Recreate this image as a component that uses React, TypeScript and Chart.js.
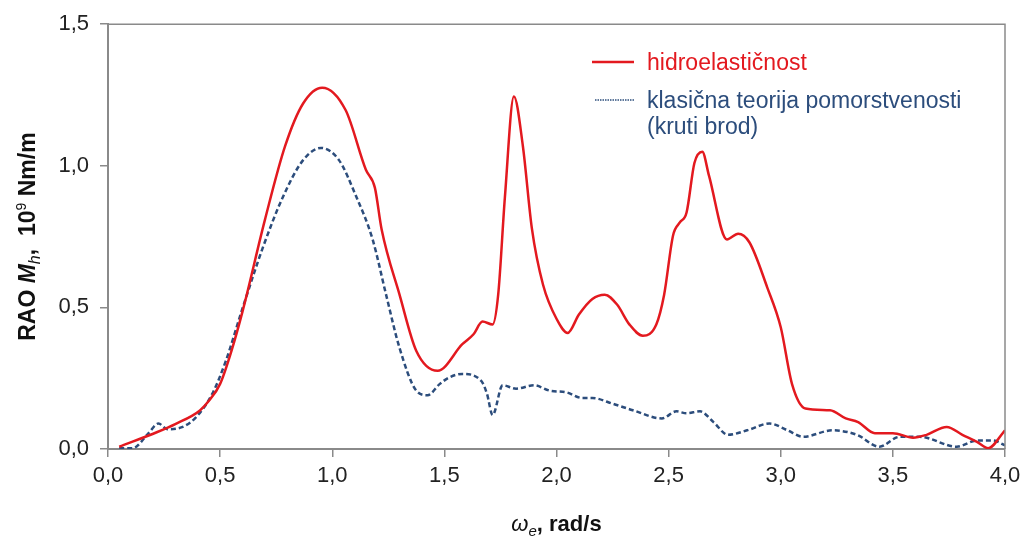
import React, { useEffect, useRef } from "react";
import { Chart, registerables } from "chart.js";

Chart.register(...registerables);

// ω_e [rad/s] and RAO M_h [10^9 Nm/m]
const hydroX = [0.05, 0.22, 0.3, 0.41, 0.45, 0.5, 0.55, 0.6, 0.7, 0.79, 0.87, 0.955, 1.06, 1.15, 1.19, 1.22, 1.3, 1.375, 1.47, 1.58, 1.63, 1.67, 1.715, 1.74, 1.77, 1.81, 1.85, 1.89, 1.94, 2.0, 2.05, 2.1, 2.16, 2.215, 2.27, 2.325, 2.385, 2.445, 2.48, 2.52, 2.55, 2.58, 2.615, 2.65, 2.68, 2.76, 2.81, 2.86, 2.94, 3.0, 3.05, 3.11, 3.22, 3.29, 3.345, 3.42, 3.5, 3.59, 3.65, 3.74, 3.81, 3.875, 3.925, 4.0];
const hydroY = [0.008, 0.06, 0.088, 0.136, 0.17, 0.23, 0.345, 0.486, 0.81, 1.07, 1.22, 1.276, 1.196, 0.986, 0.923, 0.776, 0.545, 0.346, 0.276, 0.37, 0.405, 0.45, 0.44, 0.545, 0.89, 1.245, 1.07, 0.78, 0.58, 0.46, 0.41, 0.475, 0.53, 0.545, 0.51, 0.44, 0.40, 0.44, 0.545, 0.755, 0.80, 0.835, 1.01, 1.05, 0.965, 0.74, 0.76, 0.73, 0.57, 0.43, 0.23, 0.143, 0.137, 0.108, 0.095, 0.056, 0.056, 0.04, 0.05, 0.078, 0.05, 0.025, 0.003, 0.066];

const rigidX = [0.05, 0.11, 0.18, 0.225, 0.265, 0.33, 0.39, 0.465, 0.525, 0.6, 0.69, 0.78, 0.87, 0.95, 1.03, 1.105, 1.18, 1.24, 1.3, 1.375, 1.425, 1.48, 1.52, 1.58, 1.665, 1.69, 1.715, 1.76, 1.82, 1.9, 1.97, 2.045, 2.115, 2.16, 2.25, 2.34, 2.47, 2.535, 2.58, 2.64, 2.7, 2.765, 2.85, 2.95, 3.03, 3.1, 3.23, 3.34, 3.44, 3.53, 3.62, 3.785, 3.875, 3.945, 4.0];
const rigidY = [0.003, 0.003, 0.055, 0.09, 0.07, 0.077, 0.11, 0.195, 0.31, 0.497, 0.71, 0.89, 1.02, 1.063, 1.02, 0.895, 0.74, 0.545, 0.357, 0.206, 0.19, 0.23, 0.252, 0.265, 0.24, 0.195, 0.12, 0.225, 0.213, 0.225, 0.206, 0.2, 0.18, 0.18, 0.16, 0.137, 0.108, 0.133, 0.126, 0.133, 0.095, 0.05, 0.066, 0.09, 0.066, 0.043, 0.066, 0.05, 0.008, 0.043, 0.043, 0.008, 0.03, 0.03, 0.013];

const seriesLabels = ["hidroelastičnost", "klasična teorija pomorstvenosti\n(kruti brod)"];
const xTicks = [0, 0.5, 1, 1.5, 2, 2.5, 3, 3.5, 4];
const yTicks = [0, 0.5, 1, 1.5];

const FONT = "'Liberation Sans', Arial, sans-serif";
const RED = "#e3191f";
const BLUE = "#2c4d7c";
const AXIS = "#8a8a8a";

const fmt = (v: number) => Number(v).toFixed(1).replace(".", ",");

type Run = { text: string; font: string; dy: number };

function drawRuns(ctx: CanvasRenderingContext2D, runs: Run[], cx: number, baseY: number) {
  let total = 0;
  const widths = runs.map((r) => {
    ctx.font = r.font;
    const w = ctx.measureText(r.text).width;
    total += w;
    return w;
  });
  let x = cx - total / 2;
  ctx.textAlign = "left";
  ctx.textBaseline = "alphabetic";
  runs.forEach((r, i) => {
    ctx.font = r.font;
    ctx.fillText(r.text, x, baseY + r.dy);
    x += widths[i];
  });
}

const decor = {
  id: "decor",
  afterDraw(chart: any) {
    const { ctx, chartArea: a } = chart;
    ctx.save();
    // top and right frame
    ctx.strokeStyle = AXIS;
    ctx.lineWidth = 1.5;
    ctx.beginPath();
    ctx.moveTo(a.left, a.top);
    ctx.lineTo(a.right, a.top);
    ctx.lineTo(a.right, a.bottom);
    ctx.stroke();

    // legend
    const ds = chart.data.datasets;
    const legendX = 592;
    const textX = 647;
    const rows = [62, 100];
    ds.forEach((d: any, i: number) => {
      const y = rows[i];
      ctx.save();
      ctx.strokeStyle = d.borderColor;
      if (i === 0) {
        ctx.lineWidth = 2.5;
        ctx.setLineDash([]);
      } else {
        ctx.lineWidth = 1.5;
        ctx.setLineDash([1.5, 1]);
      }
      ctx.beginPath();
      ctx.moveTo(legendX + (i === 0 ? 0 : 3), y);
      ctx.lineTo(legendX + 42, y);
      ctx.stroke();
      ctx.restore();
      ctx.fillStyle = d.borderColor;
      ctx.font = `23px ${FONT}`;
      ctx.textAlign = "left";
      ctx.textBaseline = "middle";
      String(d.label)
        .split("\n")
        .forEach((line: string, j: number) => ctx.fillText(line, textX, y + 2 + j * 26));
    });

    // axis titles
    ctx.fillStyle = "#111";
    drawRuns(
      ctx,
      [
        { text: "ω", font: `italic 22px ${FONT}`, dy: 0 },
        { text: "e", font: `italic 15px ${FONT}`, dy: 5 },
        { text: ", rad/s", font: `bold 22px ${FONT}`, dy: 0 },
      ],
      (a.left + a.right) / 2,
      531
    );
    ctx.save();
    ctx.translate(35, (a.top + a.bottom) / 2);
    ctx.rotate(-Math.PI / 2);
    drawRuns(
      ctx,
      [
        { text: "RAO ", font: `bold 23px ${FONT}`, dy: 0 },
        { text: "M", font: `italic bold 23px ${FONT}`, dy: 0 },
        { text: "h", font: `italic 16px ${FONT}`, dy: 5 },
        { text: ",  10", font: `bold 23px ${FONT}`, dy: 0 },
        { text: "9", font: `14px ${FONT}`, dy: -9 },
        { text: " Nm/m", font: `bold 23px ${FONT}`, dy: 0 },
      ],
      0,
      0
    );
    ctx.restore();
    ctx.restore();
  },
};

export default function App() {
  const ref = useRef<HTMLCanvasElement>(null);
  useEffect(() => {
    if (!ref.current) return;
    const chart = new Chart(ref.current, {
      type: "line",
      data: {
        datasets: [
          {
            label: seriesLabels[0],
            data: hydroX.map((x, i) => ({ x, y: hydroY[i] })),
            borderColor: RED,
            backgroundColor: RED,
            borderWidth: 2.5,
            pointRadius: 0,
            cubicInterpolationMode: "monotone",
            fill: false,
          },
          {
            label: seriesLabels[1],
            data: rigidX.map((x, i) => ({ x, y: rigidY[i] })),
            borderColor: BLUE,
            backgroundColor: BLUE,
            borderWidth: 2.5,
            borderDash: [5, 3],
            pointRadius: 0,
            cubicInterpolationMode: "monotone",
            fill: false,
          },
        ],
      },
      options: {
        responsive: false,
        animation: false,
        events: [],
        layout: { padding: { top: 20, right: 22, left: 0, bottom: 0 } },
        plugins: { legend: { display: false }, tooltip: { enabled: false } },
        scales: {
          x: {
            type: "linear",
            min: 0,
            max: 4,
            afterBuildTicks: (s: any) => {
              s.ticks = xTicks.map((v) => ({ value: v }));
            },
            ticks: {
              callback: (v: any) => fmt(v),
              font: { family: FONT, size: 22 },
              color: "#222",
              padding: 6,
              maxRotation: 0,
              autoSkip: false,
            },
            grid: { drawOnChartArea: false, drawTicks: true, tickLength: 8, color: AXIS, lineWidth: 1.5 },
            border: { color: AXIS, width: 2 },
            afterFit: (s: any) => {
              s.height = 88;
            },
          },
          y: {
            type: "linear",
            min: 0,
            max: 1.5,
            afterBuildTicks: (s: any) => {
              s.ticks = yTicks.map((v) => ({ value: v }));
            },
            ticks: {
              callback: (v: any) => fmt(v),
              font: { family: FONT, size: 22 },
              color: "#222",
              padding: 11,
              autoSkip: false,
            },
            grid: { drawOnChartArea: false, drawTicks: true, tickLength: 8, color: AXIS, lineWidth: 1.5 },
            border: { color: AXIS, width: 2 },
            afterFit: (s: any) => {
              s.width = 108;
            },
          },
        },
      },
      plugins: [decor],
    });
    return () => chart.destroy();
  }, []);
  return (
    <div style={{ position: "absolute", left: 0, top: 0, width: 1027, height: 537, background: "#fff" }}>
      <canvas ref={ref} width={1027} height={537} style={{ display: "block" }} />
    </div>
  );
}
